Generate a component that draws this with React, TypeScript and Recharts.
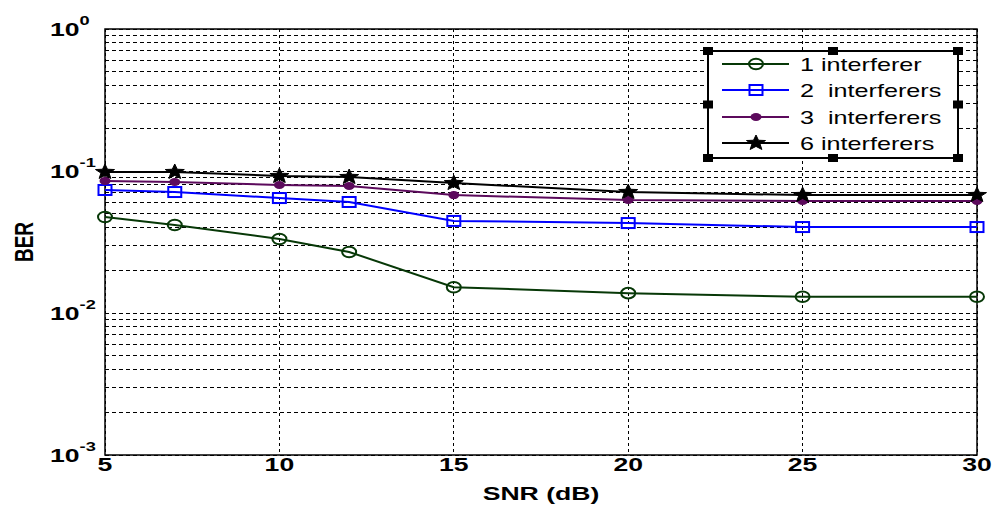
import { LineChart, Line, XAxis, YAxis, CartesianGrid, ReferenceArea } from "recharts";

// SNR values (dB) and BER
const snr = [5, 7, 10, 12, 15, 20, 25, 30];
const ber1 = [0.0474, 0.0417, 0.0332, 0.0269, 0.0152, 0.0138, 0.013, 0.013];
const ber2 = [0.0735, 0.0711, 0.0645, 0.0605, 0.0445, 0.043, 0.0403, 0.0403];
const ber3 = [0.0851, 0.0837, 0.0797, 0.0784, 0.0677, 0.0625, 0.0615, 0.0615];
const ber6 = [0.0984, 0.0984, 0.0922, 0.0907, 0.0822, 0.0711, 0.0677, 0.0677];

const xTicks = [5, 10, 15, 20, 25, 30];
const decades = [0.001, 0.01, 0.1];
const minorSteps = [1, 2, 3, 4, 5, 6, 7, 8, 9];
const yTicks = [...decades.flatMap((d) => minorSteps.map((m) => d * m)), 1];

const data = snr.map((s, i) => ({ snr: s, b1: ber1[i], b2: ber2[i], b3: ber3[i], b6: ber6[i] }));

const FONT = "'Liberation Sans', Arial, sans-serif";
const SX = 1.4; // the source figure is stretched horizontally

const series = [
  { key: "b1", name: "1 interferer", color: "#073807", marker: "circle" },
  { key: "b2", name: "2  interferers", color: "#0000ff", marker: "square" },
  { key: "b3", name: "3  interferers", color: "#5c0a5c", marker: "dot" },
  { key: "b6", name: "6 interferers", color: "#000000", marker: "star" },
];

const starPoints = (cx: number, cy: number) => {
  const pts: string[] = [];
  for (let i = 0; i < 10; i++) {
    const r = i % 2 === 0 ? 8 : 3.4;
    const a = -Math.PI / 2 + (i * Math.PI) / 5;
    pts.push(`${cx + r * Math.cos(a) * 1.25},${cy + r * Math.sin(a)}`);
  }
  return pts.join(" ");
};

const Marker = ({ type, cx, cy, color }: any) => {
  if (cx == null || cy == null) return null;
  switch (type) {
    case "circle":
      return <ellipse cx={cx} cy={cy} rx={7} ry={5.3} fill="none" stroke={color} strokeWidth={2} />;
    case "square":
      return <rect x={cx - 6.5} y={cy - 5} width={13} height={10} fill="none" stroke={color} strokeWidth={2} />;
    case "dot":
      return <ellipse cx={cx} cy={cy} rx={5.5} ry={4} fill={color} />;
    default:
      return <polygon points={starPoints(cx, cy)} fill={color} stroke={color} strokeWidth={1} />;
  }
};

const XTick = ({ x, y, payload }: any) => (
  <text
    transform={`translate(${x},${y + 16}) scale(${SX},1)`}
    textAnchor="middle"
    fontFamily={FONT}
    fontSize={19}
    fontWeight="bold"
    fill="#000"
  >
    {payload.value}
  </text>
);

const YTick = ({ x, y, payload }: any) => {
  const exp = Math.round(Math.log10(payload.value));
  if (Math.abs(Math.log10(payload.value) - exp) > 1e-6) return null;
  return (
    <text
      transform={`translate(${x - 55},${y + 7}) scale(${SX},1)`}
      fontFamily={FONT}
      fontSize={19}
      fontWeight="bold"
      fill="#000"
    >
      10
      <tspan dy={-11} fontSize={13}>
        {exp === 0 ? "0" : `-${-exp}`}
      </tspan>
    </text>
  );
};

const LegendBox = () => {
  const left = 708;
  const right = 958;
  const top = 51;
  const bottom = 158;
  const rows = [64, 90, 117, 143];
  const handles = [
    [left, top], [(left + right) / 2, top], [right, top],
    [left, (top + bottom) / 2], [right, (top + bottom) / 2],
    [left, bottom], [(left + right) / 2, bottom], [right, bottom],
  ];
  return (
    <g>
      <rect x={left} y={top} width={right - left} height={bottom - top} fill="#fff" stroke="#000" strokeWidth={1.2} shapeRendering="crispEdges" />
      {series.map((s, i) => (
        <g key={s.key}>
          <line x1={722} x2={789} y1={rows[i]} y2={rows[i]} stroke={s.color} strokeWidth={2} />
          <Marker type={s.marker} cx={756} cy={rows[i]} color={s.color} />
          <text
            transform={`translate(800,${rows[i] + 6.5}) scale(${SX},1)`}
            fontFamily={FONT}
            fontSize={18}
            fill="#000"
            style={{ whiteSpace: "pre" }}
          >
            {s.name}
          </text>
        </g>
      ))}
      {handles.map(([hx, hy], i) => (
        <rect key={i} x={hx - 5} y={hy - 4} width={10} height={8} fill="#000" />
      ))}
    </g>
  );
};

export default function App() {
  return (
    <div style={{ position: "absolute", left: 0, top: 0, width: 995, height: 510, background: "#fff" }}>
      <LineChart width={995} height={510} data={data} margin={{ top: 29, right: 18, left: 0, bottom: 0 }}>
        <CartesianGrid vertical={false} stroke="#000" strokeDasharray="4 3" strokeWidth={1} shapeRendering="crispEdges" />
        <CartesianGrid horizontal={false} stroke="#000" strokeDasharray="3 3" strokeWidth={1} shapeRendering="crispEdges" />
        <XAxis
          dataKey="snr"
          type="number"
          domain={[5, 30]}
          ticks={xTicks}
          axisLine={false}
          tickLine={false}
          tickSize={0}
          tickMargin={0}
          height={55}
          tick={<XTick />}
        />
        <YAxis
          type="number"
          scale="log"
          domain={[0.001, 1]}
          ticks={yTicks}
          interval={0}
          allowDataOverflow
          axisLine={false}
          tickLine={false}
          tickSize={0}
          tickMargin={0}
          width={105}
          tick={<YTick />}
        />
        <ReferenceArea x1={5} x2={30} y1={0.001} y2={1} fill="none" stroke="#000" strokeWidth={1.5} />
        {series.map((s) => (
          <Line
            key={s.key}
            dataKey={s.key}
            name={s.name}
            stroke={s.color}
            strokeWidth={2}
            isAnimationActive={false}
            dot={(p: any) => <Marker key={`${s.key}-${p.index}`} type={s.marker} cx={p.cx} cy={p.cy} color={s.color} />}
            activeDot={false}
          />
        ))}
        <text
          transform={`translate(541,500) scale(${SX},1)`}
          textAnchor="middle"
          fontFamily={FONT}
          fontSize={19}
          fontWeight="bold"
          fill="#000"
        >
          SNR (dB)
        </text>
        <text
          transform={`translate(33,242) rotate(-90) scale(1,${SX})`}
          textAnchor="middle"
          fontFamily={FONT}
          fontSize={19}
          fontWeight="bold"
          fill="#000"
        >
          BER
        </text>
        <LegendBox />
      </LineChart>
    </div>
  );
}
